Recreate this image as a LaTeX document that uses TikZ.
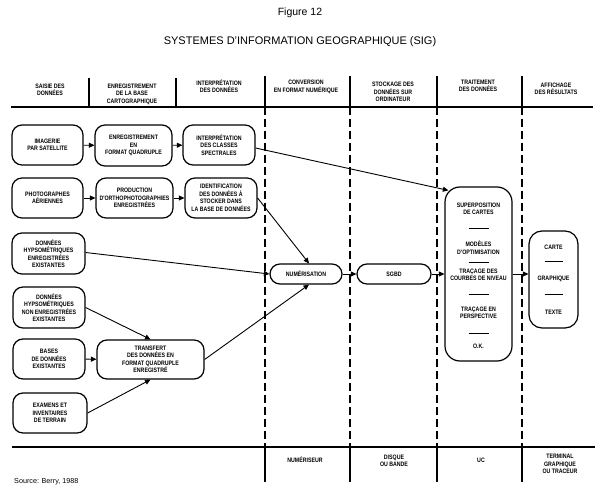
\documentclass[tikz,border=0pt]{standalone}
\usepackage{fontspec}
\setmainfont{Liberation Sans}
\newfontfamily\cond[FakeStretch=0.82]{Liberation Sans}
\usetikzlibrary{arrows.meta,calc}
\newcommand\boxfont{\cond\bfseries\fontsize{6.4}{7.5}\selectfont}
\tikzset{
  box/.style={draw, line width=1.2pt, rounded corners=10pt, align=center, font=\boxfont, inner sep=0pt},
  lbl/.style={align=center, font=\boxfont, inner sep=0pt},
  arr/.style={line width=0.9pt, -{Triangle[length=5.5pt,width=5pt]}},
  sep/.style={line width=1.1pt},
  dsep/.style={line width=1.4pt, dash pattern=on 8pt off 4pt},
  rulel/.style={line width=0.9pt}
}
\begin{document}
\begin{tikzpicture}[x=1pt,y=-1pt]
\useasboundingbox (0,0) rectangle (600,497);
% titles
\node[font=\fontsize{10.5}{12}\selectfont] (fig) at (300,13) {Figure 12};
\node[font=\fontsize{11}{13}\selectfont] (title) at (300,42) {SYSTEMES D'INFORMATION GEOGRAPHIQUE (SIG)};
% header texts
\node[lbl] (h1) at (50,90) {SAISIE DES\\DONNÉES};
\node[lbl] (h2) at (132,94) {ENREGISTREMENT\\DE LA BASE\\CARTOGRAPHIQUE};
\node[lbl] (h3) at (219,86) {INTERPRÉTATION\\DES DONNÉES};
\node[lbl] (h4) at (306,87) {CONVERSION\\EN FORMAT NUMÉRIQUE};
\node[lbl] (h5) at (393,92) {STOCKAGE DES\\DONNÉES SUR\\ORDINATEUR};
\node[lbl] (h6) at (478,86) {TRAITEMENT\\DES DONNÉES};
\node[lbl] (h7) at (556,89) {AFFICHAGE\\DES RÉSULTATS};
% header and bottom lines
\draw[sep] (11,107) -- (593,107);
\draw[sep] (12,447) -- (595,447);
\foreach \x in {89,176} \draw[sep] (\x,78) -- (\x,107);
\foreach \x in {265,350,437,522} {
  \draw[sep] (\x,76) -- (\x,107);
  \draw[dsep] (\x,107) -- (\x,447);
  \draw[sep] (\x,447) -- (\x,482);
}
% bottom texts
\node[lbl] (b1) at (305,460) {NUMÉRISEUR};
\node[lbl] (b2) at (394,461) {DISQUE\\OU BANDE};
\node[lbl] (b3) at (481,460) {UC};
\node[lbl] (b4) at (560,464) {TERMINAL\\GRAPHIQUE\\OU TRACEUR};
\node[anchor=west, font=\fontsize{7.2}{8}\selectfont, inner sep=0pt] (src) at (14,482) {Source: Berry, 1988};
% boxes
\node[box, minimum width=71pt, minimum height=40pt] (sat) at (47.5,145) {IMAGERIE\\PAR SATELLITE};
\node[box, minimum width=77pt, minimum height=41pt] (enr) at (133.5,145.5) {ENREGISTREMENT\\EN\\FORMAT QUADRUPLE};
\node[box, minimum width=72pt, minimum height=40pt] (interp) at (219,145) {INTERPRÉTATION\\DES CLASSES\\SPECTRALES};
\node[box, minimum width=71pt, minimum height=40pt] (photo) at (47.5,198) {PHOTOGRAPHES\\AÉRIENNES};
\node[box, minimum width=77pt, minimum height=40pt] (prod) at (134.5,198) {PRODUCTION\\D'ORTHOPHOTOGRAPHIES\\ENREGISTRÉES};
\node[box, minimum width=72pt, minimum height=40pt] (ident) at (221,198) {IDENTIFICATION\\DES DONNÉES À\\STOCKER DANS\\LA BASE DE DONNÉES};
\node[box, minimum width=73pt, minimum height=41pt] (hyps) at (48.5,253.5) {DONNÉES\\HYPSOMÉTRIQUES\\ENREGISTRÉES\\EXISTANTES};
\node[box, minimum width=72pt, minimum height=41pt] (hypsne) at (49,307.5) {DONNÉES\\HYPSOMÉTRIQUES\\NON ENREGISTRÉES\\EXISTANTES};
\node[box, minimum width=72pt, minimum height=40pt] (bases) at (49,359) {BASES\\DE DONNÉES\\EXISTANTES};
\node[box, minimum width=107pt, minimum height=39pt] (transfert) at (150.5,359.5) {TRANSFERT\\DES DONNÉES EN\\FORMAT QUADRUPLE\\ENREGISTRÉ};
\node[box, minimum width=74pt, minimum height=40pt] (exam) at (50,413) {EXAMENS ET\\INVENTAIRES\\DE TERRAIN};
\node[box, minimum width=72pt, minimum height=20pt] (num) at (306,274) {NUMÉRISATION};
\node[box, minimum width=74pt, minimum height=20pt] (sgbd) at (394,274) {SGBD};
\node[box, rounded corners=15pt, minimum width=67pt, minimum height=174pt] (trait) at (478.5,274) {};
\node[box, rounded corners=13pt, minimum width=49pt, minimum height=97pt] (aff) at (553.5,279.5) {};
% trait contents
\node[lbl] (t1) at (478.5,209) {SUPERPOSITION\\DE CARTES};
\node[lbl] (t2) at (478.5,247.5) {MODÈLES\\D'OPTIMISATION};
\node[lbl] (t3) at (478.5,275) {TRAÇAGE DES\\COURBES DE NIVEAU};
\node[lbl] (t4) at (478.5,313) {TRAÇAGE EN\\PERSPECTIVE};
\node[lbl] (t5) at (478.5,346) {O.K.};
\foreach \y in {228,262,294,333} \draw[rulel] (468.5,\y) -- (488.5,\y);
% aff contents
\node[lbl] (a1) at (553.5,247) {CARTE};
\node[lbl] (a2) at (553.5,279) {GRAPHIQUE};
\node[lbl] (a3) at (553.5,312) {TEXTE};
\foreach \y in {261,294} \draw[rulel] (544.5,\y) -- (562.5,\y);
% connectors
\draw[arr] (sat) -- (enr);
\draw[arr] (enr) -- (interp);
\draw[arr] (photo) -- (prod);
\draw[arr] (prod) -- (ident);
\draw[arr] (bases) -- (transfert);
\draw[arr] ($(interp.east)+(0,3)$) -- ($(trait.north west)+(4,4)$);
\draw[arr] (ident.east) -- ($(num.north)+(3,0)$);
\draw[arr] ($(hyps.east)+(0,-1)$) -- (num.west);
\draw[arr] (hypsne.east) -- (transfert.north);
\draw[arr] (exam.east) -- (transfert.south);
\draw[arr] (transfert.east) -- ($(num.south)+(3,0)$);
\draw[arr] (num) -- (sgbd);
\draw[arr] (sgbd) -- (trait.west |- sgbd.east);
\draw[arr] (trait.east) -- (trait.east -| aff.west);
\end{tikzpicture}
\end{document}
